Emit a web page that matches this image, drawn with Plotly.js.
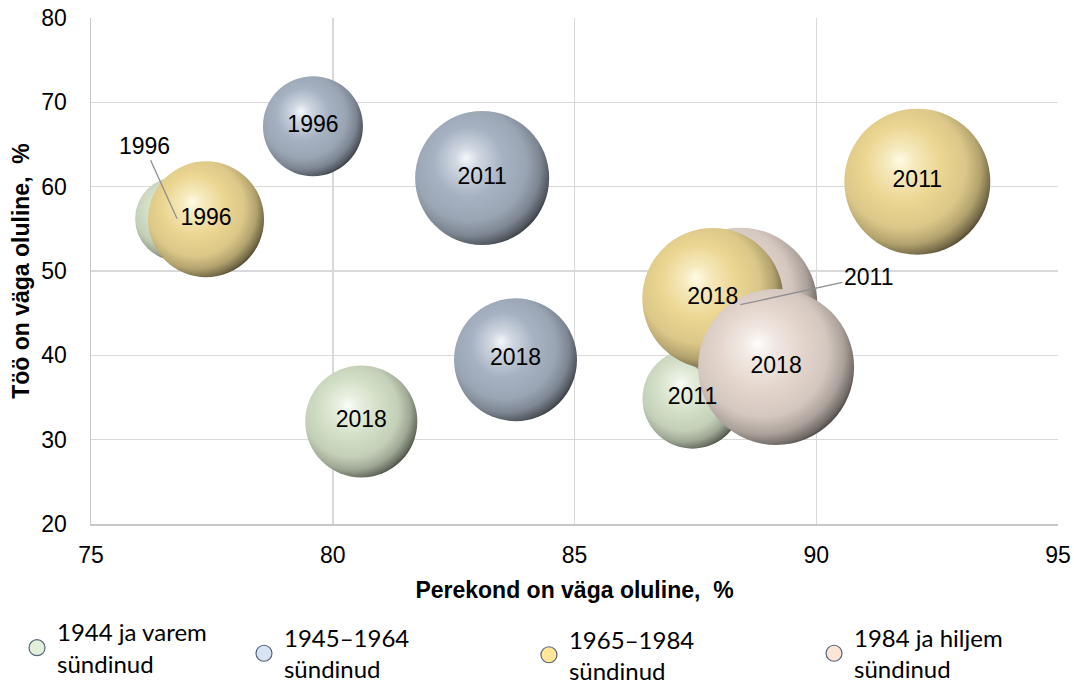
<!DOCTYPE html>
<html>
<head>
<meta charset="utf-8">
<script src="https://cdn.plot.ly/plotly-3.0.1.min.js"></script>
<style>html,body{margin:0;padding:0;background:#fff;}#chart{width:1074px;height:688px;}</style>
</head>
<body>
<div id="chart"></div>
<script>
// ---- data ----
const seriesNames = ['1944 ja varem<br>sündinud', '1945–1964<br>sündinud', '1965–1984<br>sündinud', '1984 ja hiljem<br>sündinud'];
const xTitle = 'Perekond on väga oluline,\u00a0 %';
const yTitle = 'Töö on väga oluline,\u00a0 %';

const greenYears = ['1996', '2011', '2018'];
const greenX = [76.78, 87.44, 80.59];
const greenY = [56.2, 34.86, 32.16];
const greenSize = [17.6, 25.0, 31.4];

const blueYears = ['1996', '2011', '2018'];
const blueX = [79.59, 83.09, 83.78];
const blueY = [67.17, 61.03, 39.48];
const blueSize = [25.0, 44.9, 37.8];

const yellowYears = ['1996', '2011', '2018'];
const yellowX = [77.38, 92.09, 87.86];
const yellowY = [56.14, 60.59, 46.74];
const yellowSize = [33.6, 53.3, 49.7];

const pinkYears = ['2011', '2018'];
const pinkX = [88.43, 89.17];
const pinkY = [46.0, 38.62];
const pinkSize = [59.3, 60.8];

const xTicks = [75, 80, 85, 90, 95];
const yTicks = [20, 30, 40, 50, 60, 70, 80];

// ---- styles ----
const FONT = 'Liberation Sans, Arial, sans-serif';
const LEGFONT = 'Lato, Liberation Sans, sans-serif';
const SIZEREF = 0.005;
const sphere = {
  green:  {body: '#d3dfc6', hi: '#fbfef8', leg: '#e2f0d9'},
  blue:   {body: '#a6b1c2', hi: '#f4f8fd', leg: '#dae3f3'},
  yellow: {body: '#ecd692', hi: '#fffce6', leg: '#ffe699'},
  pink:   {body: '#e4d6cd', hi: '#fffdfb', leg: '#fbe5d6'}
};

function bubble(name, x, y, s, col) {
  return {
    type: 'scatter', mode: 'markers', x: x, y: y, uid: name,
    marker: {size: s, sizemode: 'area', sizeref: SIZEREF, color: col.body,
             gradient: {type: 'radial', color: col.hi}, line: {width: 0}, opacity: 1},
    showlegend: false, hoverinfo: 'skip', cliponaxis: false
  };
}
function labels(x, y, t) {
  return {type: 'scatter', mode: 'text', x: x, y: y, text: t, textposition: 'middle center',
          textfont: {family: FONT, size: 23, color: '#000'}, showlegend: false, hoverinfo: 'skip', cliponaxis: false};
}
function legendItem(name, col, leg) {
  return {type: 'scatter', mode: 'markers', x: [null], y: [null], name: name, legend: leg,
          marker: {size: 16, color: col.leg, line: {color: '#56657a', width: 1.2}}, hoverinfo: 'skip'};
}

const blank = (arr, skip) => arr.map((v, i) => skip.includes(i) ? '' : v);

const data = [
  bubble('green', greenX, greenY, greenSize, sphere.green),
  bubble('blue', blueX, blueY, blueSize, sphere.blue),
  bubble('pinkA', pinkX.slice(0, 1), pinkY.slice(0, 1), pinkSize.slice(0, 1), sphere.pink),
  bubble('yellow', yellowX, yellowY, yellowSize, sphere.yellow),
  bubble('pinkB', pinkX.slice(1), pinkY.slice(1), pinkSize.slice(1), sphere.pink),
  labels(greenX, greenY, blank(greenYears, [0])),
  labels(blueX, blueY, blueYears),
  labels(yellowX, yellowY, yellowYears),
  labels(pinkX, pinkY, blank(pinkYears, [0])),
  legendItem(seriesNames[0], sphere.green, 'legend'),
  legendItem(seriesNames[1], sphere.blue, 'legend2'),
  legendItem(seriesNames[2], sphere.yellow, 'legend3'),
  legendItem(seriesNames[3], sphere.pink, 'legend4')
];

const legBase = {orientation: 'v', bgcolor: 'rgba(0,0,0,0)', borderwidth: 0, xanchor: 'left', yanchor: 'middle',
                 font: {family: LEGFONT, size: 24, color: '#000'}, itemclick: false, itemdoubleclick: false};

const axisBase = {
  showgrid: true, gridcolor: '#d9d9d9', gridwidth: 1.5, zeroline: false,
  showline: true, linecolor: '#c8c8c8', linewidth: 1.5, ticks: '',
  tickfont: {family: FONT, size: 23, color: '#000'}, fixedrange: true
};

const layout = {
  width: 1074, height: 688,
  margin: {l: 91, r: 16, t: 18, b: 164, autoexpand: false},
  paper_bgcolor: '#fff', plot_bgcolor: '#fff',
  hovermode: false,
  font: {family: FONT, color: '#000'},
  xaxis: Object.assign({}, axisBase, {
    range: [75, 95], tickvals: xTicks, ticklabelstandoff: 10,
    title: {text: xTitle, font: {family: FONT, size: 23, weight: 'bold', color: '#000'}, standoff: 15}
  }),
  yaxis: Object.assign({}, axisBase, {
    range: [20, 80], tickvals: yTicks, ticklabelstandoff: 18,
    title: {text: yTitle, font: {family: FONT, size: 23, weight: 'bold', color: '#000'}, standoff: 5}
  }),
  legend:  Object.assign({}, legBase, {x: -0.0765, y: -0.245}),
  legend2: Object.assign({}, legBase, {x: 0.1582, y: -0.256}),
  legend3: Object.assign({}, legBase, {x: 0.4529, y: -0.259}),
  legend4: Object.assign({}, legBase, {x: 0.7477, y: -0.256}),
  annotations: [
    {x: greenX[0], y: greenY[0], text: greenYears[0], showarrow: true, arrowhead: 0, arrowwidth: 1.3,
     arrowcolor: '#8f8f8f', ax: -33, ay: -73, standoff: 0, font: {family: FONT, size: 23, color: '#000'}},
    {x: pinkX[0], y: pinkY[0], text: pinkYears[0], showarrow: true, arrowhead: 0, arrowwidth: 1.3,
     arrowcolor: '#8f8f8f', ax: 128, ay: -28, standoff: 0, font: {family: FONT, size: 23, color: '#000'}}
  ]
};

// sphere shading: extend Plotly's radial gradients with an offset highlight and a darker lower-right rim
function parseRGB(s) { const m = (s || '').match(/[\d.]+/g) || [0, 0, 0]; return m.slice(0, 3).map(Number); }
function mix(a, b, t) { return a.map((v, i) => Math.round(v + (b[i] - v) * t)); }
function shadeSpheres() {
  document.querySelectorAll('#chart radialGradient').forEach(g => {
    const stops = g.querySelectorAll('stop');
    if (stops.length !== 2) return;
    const c = parseRGB(stops[0].getAttribute('stop-color'));
    const b = parseRGB(stops[1].getAttribute('stop-color'));
    const rim = b.map(v => v * 0.3);
    const spec = [[0, c], [0.14, mix(c, b, 0.45)], [0.42, b], [0.68, mix(b, rim, 0.1)],
                  [0.84, mix(b, rim, 0.35)], [0.95, mix(b, rim, 0.72)], [1, rim]];
    stops.forEach(s => s.remove());
    g.setAttribute('cx', '42%'); g.setAttribute('cy', '42%'); g.setAttribute('r', '62%');
    g.setAttribute('fx', '38%'); g.setAttribute('fy', '35%');
    spec.forEach(([o, col]) => {
      const s = document.createElementNS('http://www.w3.org/2000/svg', 'stop');
      s.setAttribute('offset', (o * 100) + '%');
      s.setAttribute('stop-color', 'rgb(' + col.join(',') + ')');
      g.appendChild(s);
    });
  });
}

Plotly.newPlot('chart', data, layout, {staticPlot: true, displayModeBar: false}).then(gd => {
  shadeSpheres();
  gd.on('plotly_afterplot', shadeSpheres);
});
</script>
</body>
</html>
